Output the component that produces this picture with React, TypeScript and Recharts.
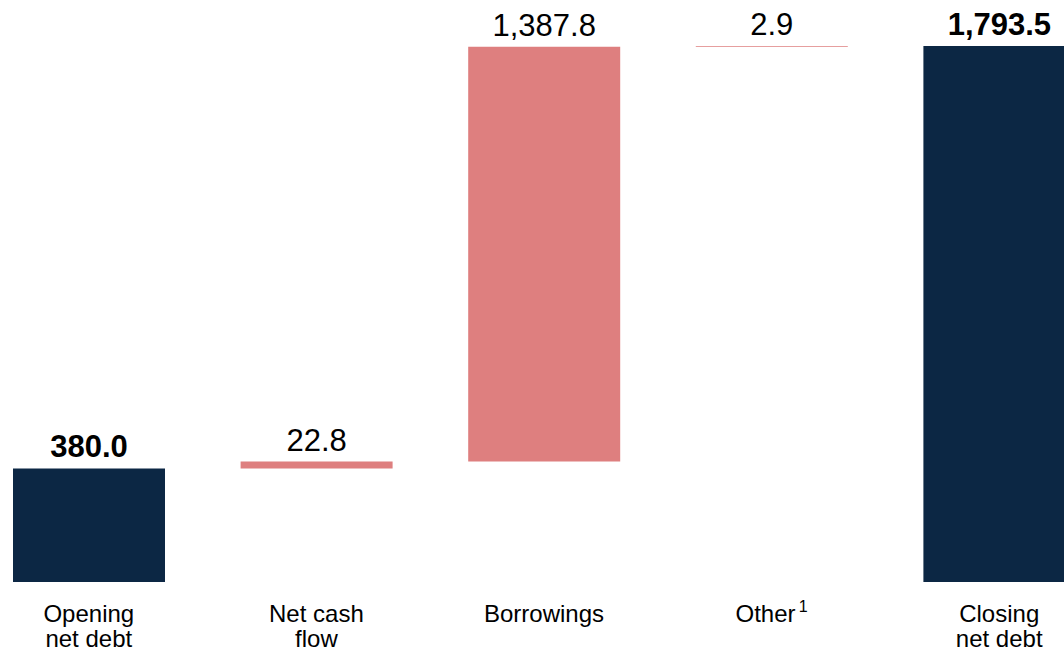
import { BarChart, Bar, XAxis, YAxis, Cell, LabelList } from "recharts";

const NAVY = "#0C2744";
const PINK = "#DE7F7F";
const FONT = "'Liberation Sans', Arial, sans-serif";

const categories = ["Opening\nnet debt", "Net cash\nflow", "Borrowings", "Other", "Closing\nnet debt"];
const values = [380.0, 22.8, 1387.8, 2.9, 1793.5];
const isTotal = [true, false, false, false, true];
const footnotes = ["", "", "", "1", ""];

// floating base for each step of the waterfall
let running = 0;
const data = categories.map((name, i) => {
  const base = isTotal[i] ? 0 : running;
  running = isTotal[i] ? values[i] : running + values[i];
  return { name, base, value: values[i], total: isTotal[i], note: footnotes[i] };
});

const fmt = (v: number) =>
  v.toLocaleString("en-US", { minimumFractionDigits: 1, maximumFractionDigits: 1 });

function CatTick(props: any) {
  const { x, y, payload, index } = props;
  const lines = String(payload.value).split("\n");
  const note = footnotes[index];
  return (
    <g transform={`translate(${x},${y})`}>
      <text textAnchor="middle" fontFamily={FONT} fontSize={24} fill="#000">
        {lines.map((l, i) => (
          <tspan key={i} x={0} y={32 + i * 25}>
            {l}
            {note && i === 0 ? (
              <tspan fontSize={16} dy={-10}>{"\u2009" + note}</tspan>
            ) : null}
          </tspan>
        ))}
      </text>
    </g>
  );
}

function ValueLabel(props: any) {
  const { x, y, width, value, index } = props;
  return (
    <text
      x={x + width / 2}
      y={y - 11}
      textAnchor="middle"
      fontFamily={FONT}
      fontSize={31}
      fontWeight={isTotal[index] ? "bold" : "normal"}
      fill="#000"
    >
      {fmt(value)}
    </text>
  );
}

export default function App() {
  return (
    <div style={{ position: "fixed", left: 0, top: 0, width: 1064, height: 652, overflow: "hidden", background: "#fff" }}>
      <div style={{ position: "absolute", left: -25, top: 0 }}>
        <BarChart
          width={1138}
          height={652}
          data={data}
          margin={{ top: 46, right: 0, bottom: 0, left: 0 }}
          barSize={152}
        >
          <XAxis
            dataKey="name"
            axisLine={false}
            tickLine={false}
            interval={0}
            height={70}
            tick={<CatTick />}
          />
          <YAxis hide domain={[0, 1793.5]} />
          <Bar dataKey="base" stackId="w" fill="transparent" isAnimationActive={false} />
          <Bar dataKey="value" stackId="w" isAnimationActive={false}>
            {data.map((d, i) => (
              <Cell key={i} fill={d.total ? NAVY : PINK} />
            ))}
            <LabelList dataKey="value" content={<ValueLabel />} />
          </Bar>
        </BarChart>
      </div>
    </div>
  );
}
